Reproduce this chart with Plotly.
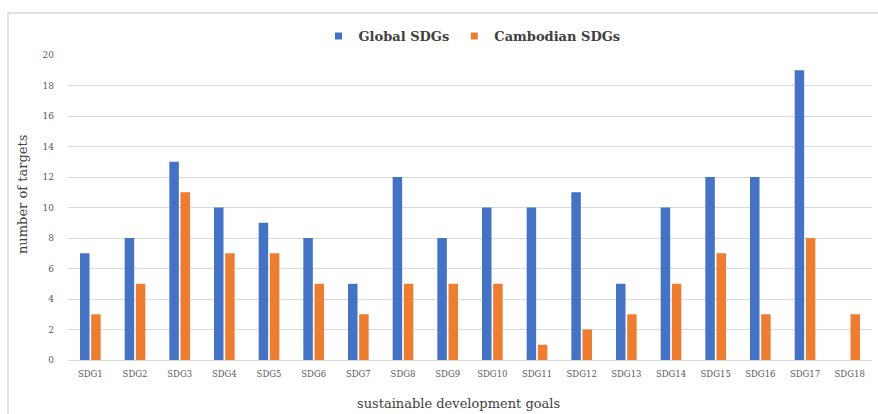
import plotly.graph_objects as go

categories = ["SDG1", "SDG2", "SDG3", "SDG4", "SDG5", "SDG6", "SDG7", "SDG8", "SDG9",
              "SDG10", "SDG11", "SDG12", "SDG13", "SDG14", "SDG15", "SDG16", "SDG17", "SDG18"]
global_sdgs = [7, 8, 13, 10, 9, 8, 5, 12, 8, 10, 10, 11, 5, 10, 12, 12, 19, None]
cambodian_sdgs = [3, 5, 11, 7, 7, 5, 3, 5, 5, 5, 1, 2, 3, 5, 7, 3, 8, 3]
y_ticks = list(range(0, 21, 2))

SERIF = "DejaVu Serif, Liberation Serif, serif"
BLUE = "#4472C4"
ORANGE = "#ED7D31"

fig = go.Figure()
fig.add_trace(go.Bar(x=categories, y=global_sdgs, name="Global SDGs", showlegend=False,
                     marker=dict(color=BLUE, line=dict(width=0))))
fig.add_trace(go.Bar(x=categories, y=cambodian_sdgs, name="Cambodian SDGs", showlegend=False,
                     marker=dict(color=ORANGE, line=dict(width=0))))
# legend entries with small square swatches
fig.add_trace(go.Scatter(x=[None], y=[None], mode="markers", name="Global SDGs",
                         marker=dict(symbol="square", size=7, color=BLUE)))
fig.add_trace(go.Scatter(x=[None], y=[None], mode="markers", name="Cambodian SDGs",
                         marker=dict(symbol="square", size=7, color=ORANGE)))

L, R, T, B = 68, 6, 55, 54
W, H = 878, 414
pw = W - L - R
ph = H - T - B

def px_x(px):
    return (px - L) / pw

def px_y(py):
    return (H - B - py) / ph

fig.update_layout(
    width=W, height=H,
    margin=dict(l=L, r=R, t=T, b=B),
    paper_bgcolor="white", plot_bgcolor="white",
    barmode="group", bargap=0.5, bargroupgap=0.15,
    font=dict(family=SERIF, color="#595959", size=9),
    legend=dict(orientation="h", x=px_x(472), xanchor="center", y=px_y(36), yanchor="middle",
                font=dict(family=SERIF, size=13, color="#404040", weight="bold"),
                itemwidth=30, traceorder="normal", bgcolor="rgba(0,0,0,0)"),
    xaxis=dict(showgrid=False, showline=True, linecolor="#D9D9D9", linewidth=1,
               ticks="", ticklabelstandoff=6,
               tickfont=dict(family=SERIF, size=8.5, color="#595959")),
    yaxis=dict(range=[0, 20], tickvals=y_ticks, showgrid=True, gridcolor="#D9D9D9",
               gridwidth=1, zeroline=False, showline=False, ticks="", ticklabelstandoff=13,
               tickfont=dict(family=SERIF, size=9, color="#595959")),
    annotations=[
        dict(text="sustainable development goals", xref="paper", yref="paper",
             x=px_x(458), y=px_y(403), xanchor="center", yanchor="middle", showarrow=False,
             font=dict(family=SERIF, size=13, color="#404040")),
        dict(text="number of targets", xref="paper", yref="paper", textangle=-90,
             x=px_x(22), y=px_y(195), xanchor="center", yanchor="middle", showarrow=False,
             font=dict(family=SERIF, size=13, color="#404040")),
    ],
    shapes=[
        dict(type="line", xref="paper", yref="paper", x0=px_x(8), x1=px_x(878),
             y0=px_y(13), y1=px_y(13), line=dict(color="#D9D9D9", width=1.5)),
        dict(type="line", xref="paper", yref="paper", x0=px_x(8), x1=px_x(8),
             y0=px_y(13), y1=px_y(414), line=dict(color="#D9D9D9", width=1.5)),
    ],
)

fig.write_html("out.html")
